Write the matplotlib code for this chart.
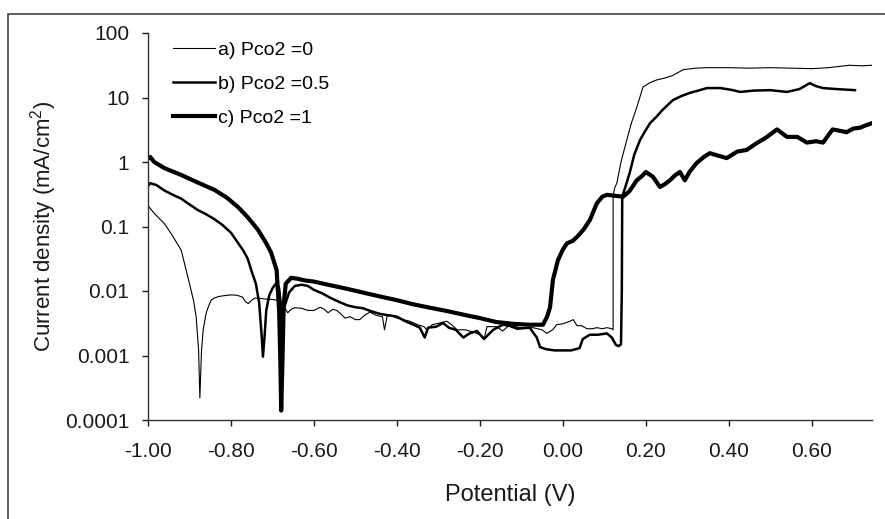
import matplotlib
matplotlib.use("Agg")
import matplotlib.pyplot as plt
from matplotlib.patches import Rectangle
from matplotlib.ticker import FixedLocator, FixedFormatter

plt.rcParams['font.family'] = ['Liberation Sans', 'DejaVu Sans']
plt.rcParams['mathtext.fontset'] = 'custom'
plt.rcParams['mathtext.rm'] = 'Liberation Sans'

# a) Pco2 = 0  (thin)
pot_a = [-1.000, -0.985, -0.960, -0.940, -0.920, -0.900, -0.890, -0.884, -0.878, -0.875,
         -0.871, -0.867, -0.860, -0.855, -0.848, -0.840, -0.830, -0.815, -0.800, -0.785,
         -0.772, -0.765, -0.758, -0.750, -0.742, -0.730, -0.718, -0.700, -0.690, -0.680,
         -0.672, -0.663, -0.655, -0.646, -0.630, -0.615, -0.600, -0.585, -0.575, -0.566,
         -0.555, -0.545, -0.535, -0.525, -0.513, -0.500, -0.490, -0.478, -0.465, -0.450,
         -0.435, -0.430, -0.424, -0.417, -0.400, -0.385, -0.369, -0.350, -0.335, -0.328,
         -0.315, -0.296, -0.280, -0.268, -0.255, -0.235, -0.215, -0.200, -0.190, -0.183,
         -0.160, -0.145, -0.128, -0.104, -0.072, -0.050, -0.039, -0.025, -0.015, 0.000,
         0.017, 0.025, 0.034, 0.045, 0.058, 0.070, 0.082, 0.095, 0.106, 0.118,
         0.121, 0.121, 0.125, 0.130, 0.140, 0.154, 0.165, 0.178, 0.193, 0.210,
         0.226, 0.245, 0.265, 0.290, 0.320, 0.347, 0.400, 0.450, 0.500, 0.550,
         0.600, 0.640, 0.690, 0.720, 0.745]
cur_a = [0.21, 0.16, 0.11, 0.07, 0.043, 0.013, 0.007, 0.004, 0.0012, 0.00022,
         0.0012, 0.0025, 0.0045, 0.0056, 0.0072, 0.0078, 0.0082, 0.0085, 0.0087, 0.0086,
         0.0080, 0.0068, 0.0064, 0.0072, 0.0078, 0.0077, 0.0075, 0.0074, 0.0072, 0.0070,
         0.0056, 0.0046, 0.0052, 0.0055, 0.0054, 0.0050, 0.0050, 0.0056, 0.0052, 0.0046,
         0.0052, 0.0050, 0.0044, 0.0038, 0.0040, 0.0036, 0.0036, 0.0042, 0.0047, 0.0042,
         0.0040, 0.0025, 0.0040, 0.0043, 0.0038, 0.0036, 0.0034, 0.0030, 0.0028, 0.0025,
         0.0030, 0.0032, 0.0034, 0.0030, 0.0025, 0.0025, 0.0023, 0.0021, 0.0018, 0.0028,
         0.0028, 0.0024, 0.0030, 0.0027, 0.0027, 0.0025, 0.0022, 0.0025, 0.0030, 0.0031,
         0.0034, 0.0036, 0.0029, 0.0029, 0.0026, 0.0026, 0.0027, 0.0026, 0.0027, 0.0026,
         0.0025, 0.30, 0.40, 0.47, 1.0, 2.2, 4.0, 7.0, 14.5, 17.0,
         18.7, 20.0, 22.0, 27.0, 28.5, 29.0, 29.0, 28.5, 29.0, 28.5,
         28.0, 29.0, 31.6, 31.0, 31.6]

# b) Pco2 = 0.5  (medium)
pot_b = [-1.000, -0.995, -0.980, -0.960, -0.940, -0.920, -0.900, -0.880, -0.860, -0.840,
         -0.820, -0.800, -0.785, -0.770, -0.760, -0.750, -0.740, -0.732, -0.726, -0.723,
         -0.719, -0.715, -0.708, -0.700, -0.690, -0.684, -0.679, -0.675, -0.670, -0.660,
         -0.646, -0.630, -0.615, -0.600, -0.580, -0.560, -0.540, -0.520, -0.500, -0.482,
         -0.460, -0.440, -0.420, -0.400, -0.380, -0.360, -0.345, -0.333, -0.325, -0.305,
         -0.289, -0.275, -0.258, -0.240, -0.225, -0.207, -0.190, -0.180, -0.168, -0.145,
         -0.130, -0.110, -0.080, -0.063, -0.055, -0.040, -0.020, 0.000, 0.020, 0.040,
         0.048, 0.065, 0.085, 0.106, 0.118, 0.128, 0.135, 0.140, 0.142, 0.143,
         0.150, 0.161, 0.172, 0.186, 0.198, 0.210, 0.225, 0.240, 0.265, 0.285,
         0.306, 0.330, 0.347, 0.380, 0.410, 0.427, 0.460, 0.500, 0.540, 0.570,
         0.595, 0.610, 0.627, 0.660, 0.704]
cur_b = [0.42, 0.47, 0.44, 0.36, 0.31, 0.27, 0.22, 0.18, 0.155, 0.13,
         0.105, 0.08, 0.058, 0.042, 0.032, 0.020, 0.013, 0.0065, 0.0020, 0.00096,
         0.0020, 0.005, 0.0085, 0.0110, 0.0135, 0.011, 0.0055, 0.004, 0.006, 0.0095,
         0.012, 0.0125, 0.012, 0.0104, 0.0092, 0.0078, 0.0068, 0.0060, 0.0056, 0.0054,
         0.0048, 0.0044, 0.0042, 0.0040, 0.0034, 0.0030, 0.0027, 0.0019, 0.0027, 0.0028,
         0.0032, 0.0027, 0.0025, 0.0019, 0.0022, 0.0024, 0.0018, 0.0021, 0.0025, 0.0030,
         0.0029, 0.0026, 0.0027, 0.0019, 0.00135, 0.00125, 0.0012, 0.0012, 0.0012, 0.0013,
         0.0018, 0.0021, 0.0021, 0.0022, 0.0019, 0.00145, 0.0014, 0.0015, 0.01, 0.29,
         0.40, 0.68, 1.3, 2.2, 3.0, 4.0, 5.0, 6.4, 9.1, 10.5,
         11.8, 13.0, 14.0, 14.0, 13.0, 12.2, 12.8, 13.0, 12.2, 13.5,
         16.7, 15.0, 14.0, 13.5, 13.0]

# c) Pco2 = 1  (thick)
pot_c = [-1.000, -0.995, -0.985, -0.960, -0.920, -0.880, -0.840, -0.810, -0.783, -0.760,
         -0.735, -0.715, -0.703, -0.690, -0.684, -0.681, -0.679, -0.676, -0.673, -0.668,
         -0.655, -0.640, -0.620, -0.600, -0.561, -0.520, -0.480, -0.440, -0.400, -0.360,
         -0.320, -0.280, -0.240, -0.200, -0.160, -0.120, -0.080, -0.048, -0.038, -0.031,
         -0.024, -0.012, 0.000, 0.010, 0.024, 0.035, 0.050, 0.065, 0.082, 0.095,
         0.106, 0.125, 0.145, 0.160, 0.178, 0.190, 0.200, 0.217, 0.234, 0.245,
         0.258, 0.270, 0.282, 0.294, 0.305, 0.322, 0.340, 0.354, 0.375, 0.395,
         0.420, 0.443, 0.467, 0.490, 0.516, 0.540, 0.565, 0.588, 0.610, 0.627,
         0.650, 0.684, 0.700, 0.716, 0.730, 0.745]
cur_c = [1.15, 1.2, 1.0, 0.80, 0.63, 0.48, 0.37, 0.28, 0.20, 0.14,
         0.089, 0.055, 0.039, 0.021, 0.005, 0.0008, 0.00014, 0.0008, 0.006, 0.013,
         0.016, 0.0155, 0.0145, 0.014, 0.0123, 0.0108, 0.0094, 0.0082, 0.0072, 0.0062,
         0.0055, 0.0049, 0.0043, 0.0038, 0.0033, 0.0031, 0.0030, 0.0030, 0.0040, 0.0056,
         0.015, 0.030, 0.044, 0.055, 0.060, 0.070, 0.090, 0.126, 0.23, 0.29,
         0.31, 0.30, 0.29, 0.35, 0.52, 0.60, 0.70, 0.59, 0.41, 0.45,
         0.52, 0.62, 0.70, 0.52, 0.70, 0.96, 1.2, 1.37, 1.25, 1.15,
         1.45, 1.54, 1.96, 2.4, 3.2, 2.45, 2.45, 2.0, 2.1, 2.0,
         3.2, 2.9, 3.3, 3.4, 3.7, 4.0]

labels = ['a) Pco2 =0', 'b) Pco2 =0.5', 'c) Pco2 =1']
x_ticks = [-1.0, -0.8, -0.6, -0.4, -0.2, 0.0, 0.2, 0.4, 0.6]
x_ticklabels = ['-1.00', '-0.80', '-0.60', '-0.40', '-0.20', '0.00', '0.20', '0.40', '0.60']
y_ticks = [0.0001, 0.001, 0.01, 0.1, 1, 10, 100]
y_ticklabels = ['0.0001', '0.001', '0.01', '0.1', '1', '10', '100']

fig = plt.figure(figsize=(8.85, 5.19), dpi=100)
ax = fig.add_axes([148 / 885, 1 - 420 / 519, 724 / 885, 387 / 519])

ax.plot(pot_a, cur_a, color='black', lw=0.8, label=labels[0])
ax.plot(pot_b, cur_b, color='black', lw=1.8, label=labels[1])
ax.plot(pot_c, cur_c, color='black', lw=3.0, label=labels[2])

ax.set_yscale('log')
ax.set_xlim(-1.0, 0.745)
ax.set_ylim(0.0001, 100)
ax.yaxis.set_major_locator(FixedLocator(y_ticks))
ax.yaxis.set_major_formatter(FixedFormatter(y_ticklabels))
ax.yaxis.set_minor_locator(FixedLocator([]))
ax.set_xticks(x_ticks)
ax.set_xticklabels(x_ticklabels)
ax.tick_params(direction='out', length=4.5, width=1, labelsize=15, colors='#1a1a1a')
ax.tick_params(axis='x', pad=11)
ax.tick_params(axis='y', pad=9)

for side in ['top', 'right']:
    ax.spines[side].set_visible(False)
for side in ['left', 'bottom']:
    ax.spines[side].set_color('#333333')
    ax.spines[side].set_linewidth(1)

ax.set_xlabel('Potential (V)', fontsize=17, labelpad=17, color='#1a1a1a')
ax.set_ylabel(r'Current density (mA/cm$^\mathregular{2}$)', fontsize=16, labelpad=4, color='#1a1a1a')

ax.legend(loc='upper left', bbox_to_anchor=(0.034, 0.979), frameon=False, fontsize=14,
          handlelength=2.2, handletextpad=0.15, labelspacing=0.84, borderpad=0, borderaxespad=0)

# chart area border
fig.patches.append(Rectangle((8 / 885, -0.05), 1.1, 1 - 14 / 519 + 0.05, transform=fig.transFigure,
                             fill=False, edgecolor='#444444', lw=1.2, clip_on=False))

fig.savefig('out.png', dpi=100)
